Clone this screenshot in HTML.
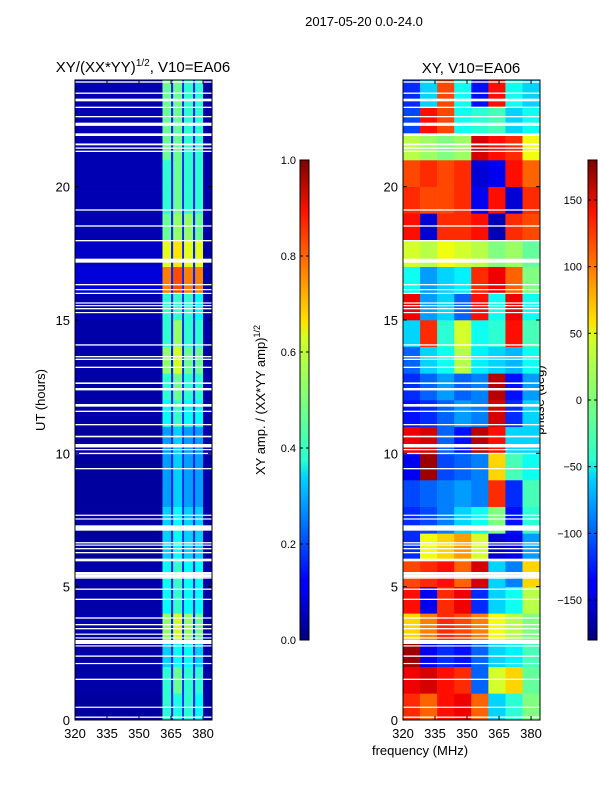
<!DOCTYPE html>
<html><head><meta charset="utf-8"><style>
body{margin:0;background:#fff;}
svg{display:block;font-family:"Liberation Sans",sans-serif;}
</style></head><body>
<svg id="c" width="600" height="800" xmlns="http://www.w3.org/2000/svg">
<defs>
<linearGradient id="jet" x1="0" y1="1" x2="0" y2="0">
<stop offset="0" stop-color="#00007f"/><stop offset="0.11" stop-color="#0000ff"/><stop offset="0.125" stop-color="#0000ff"/>
<stop offset="0.34" stop-color="#00d4ff"/><stop offset="0.375" stop-color="#29ffce"/><stop offset="0.5" stop-color="#7dff7a"/>
<stop offset="0.625" stop-color="#ceff29"/><stop offset="0.66" stop-color="#ffe500"/><stop offset="0.89" stop-color="#ff1300"/><stop offset="1" stop-color="#7f0000"/>
</linearGradient>
</defs>
<text x="364" y="26" font-size="13" text-anchor="middle">2017-05-20 0.0-24.0</text>
<text x="143" y="72" font-size="15" text-anchor="middle">XY/(XX*YY)<tspan font-size="10" dy="-6">1/2</tspan><tspan dy="6">, V10=EA06</tspan></text>
<text x="471" y="73" font-size="15" text-anchor="middle">XY, V10=EA06</text>
<text transform="translate(45,400) rotate(-90)" font-size="13" text-anchor="middle">UT (hours)</text>
<text transform="translate(265,400) rotate(-90)" font-size="13" text-anchor="middle">XY amp. / (XX*YY amp)<tspan font-size="9" dy="-5">1/2</tspan></text>
<text transform="translate(544,400) rotate(-90)" font-size="13" text-anchor="middle">phase (deg)</text>
<text x="420" y="755" font-size="13" text-anchor="middle">frequency (MHz)</text>
<g id="g1"></g><g id="g2"></g><g id="ax"></g>
</svg>
<script>
// ---- data ----
const freqTicks=[320,335,350,365,380];
const hourTicks=[0,5,10,15,20];
const ampColEdges=[320,361,365,366,370.2,371.1,375.3,376.3,380,384.2];
const ampBg=[0.03,0.04,0.04,0.05,0.04,0.04,0.03,0.03,0.03,0.03,0.03,0.04,0.04,0.04,0.04,0.05,0.09,0.07,0.05,0.05,0.05,0.05,0.05,0.05];
const band1=[.42,.42,.33,.52,.38,.38,.33,.33,.28,.28,.28,.38,.42,.52,.42,.42,.75,.6,.48,.42,.42,.48,.48,.48];
const band2=[.4,.48,.38,.58,.43,.43,.38,.38,.33,.33,.33,.43,.48,.58,.52,.43,.8,.65,.52,.48,.48,.48,.48,.48];
const band3=[.42,.42,.38,.52,.38,.38,.33,.33,.28,.28,.28,.38,.42,.48,.42,.42,.75,.6,.52,.42,.42,.42,.42,.42];
const band4=[.38,.42,.33,.48,.38,.38,.33,.33,.28,.28,.28,.38,.42,.48,.42,.38,.75,.6,.48,.42,.42,.42,.42,.42];
const phaseColEdges=[320,328,336,344,352,360,368,376,384.2];
const phase=[
[120,100,130,140,100,-60,-30,0],
[140,150,130,120,-100,30,60,-10],
[170,-140,-120,-130,-100,-60,-50,-20],
[60,90,120,110,90,40,20,0],
[130,-140,120,140,-120,-60,-40,20],
[110,120,130,100,150,-60,-90,60],
[-120,40,60,80,30,-150,-140,-80],
[-120,-110,-90,-60,-40,0,-130,-30],
[-110,-100,-90,-80,-90,120,-120,-20],
[-140,170,-110,-100,-90,60,-20,-40],
[140,150,-100,-130,160,130,-60,-60],
[-130,-120,-100,-80,-90,150,-120,-60],
[-120,-100,-80,-100,-90,160,-130,-80],
[-100,-60,-40,20,-50,-60,-70,-40],
[-60,120,-30,30,-40,-30,130,-20],
[140,-80,-60,-100,130,-40,140,-40],
[-40,-80,-60,-50,120,140,100,0],
[30,20,40,30,20,0,10,-10],
[130,-150,120,120,130,-160,120,110],
[120,110,110,120,-140,130,-150,120],
[110,120,110,120,-150,-140,130,100],
[20,10,0,10,150,130,120,40],
[-110,130,110,-40,-30,-20,-60,-40],
[-120,-60,110,-40,-130,130,-40,-60]];
// flagged (white) time intervals in hours [start,end]
const flags=[[0.08,0.13],[0.47,0.5],[1.5,1.55],[2.1,2.14],[2.37,2.42],[2.76,2.8],[2.85,3.0],[3.08,3.1],[3.2,3.24],[3.4,3.45],[3.55,3.6],[3.8,3.85],[4.5,4.55],[4.88,4.93],[5.3,5.35],[5.45,5.55],[5.35,5.4],[5.4,5.45],[5.95,6.05],[6.25,6.3],[6.4,6.45],[6.54,6.58],[6.62,6.67],[7.1,7.3],[7.52,7.56],[7.66,7.7],[9.4,9.45],[9.97,10.02],[10.12,10.16],[10.22,10.35],[10.6,10.66],[11.05,11.1],[11.55,11.6],[11.75,11.85],[12.36,12.42],[12.38,12.45],[12.6,12.66],[13.2,13.25],[13.5,13.55],[13.6,13.65],[14.04,14.09],[15.26,15.3],[15.4,15.45],[15.52,15.56],[15.62,15.66],[15.98,16.02],[16.12,16.16],[16.3,16.35],[17.15,17.3],[17.95,18.0],[18.5,18.55],[19.1,19.15],[21.3,21.35],[21.42,21.47],[21.55,21.62],[21.9,22.0],[22.28,22.4],[22.6,22.65],[22.95,23.0],[23.2,23.3],[23.48,23.53],[23.9,23.95]];
// ---- drawing ----
const NS='http://www.w3.org/2000/svg';
function jet(v){v=Math.max(0,Math.min(1,v));
 const f=x=>Math.round(255*Math.max(0,Math.min(1,x)));
 return 'rgb('+f(1.5-Math.abs(4*v-3))+','+f(1.5-Math.abs(4*v-2))+','+f(1.5-Math.abs(4*v-1))+')';}
const P1={x0:75,x1:212,y0:80,y1:720},P2={x0:403,x1:540,y0:80,y1:720};
function fx(P,f){return P.x0+(f-320)*(P.x1-P.x0)/(384.2-320);}
function hy(P,h){return P.y1-h*(P.y1-P.y0)/24;}
function rect(g,x,y,w,h,fill,name){const r=document.createElementNS(NS,'rect');
 r.setAttribute('x',x);r.setAttribute('y',y);r.setAttribute('width',w);r.setAttribute('height',h);r.setAttribute('fill',fill);
 
 
 g.appendChild(r);return r;}
const g1=document.getElementById('g1'),g2=document.getElementById('g2'),ax=document.getElementById('ax');
for(let h=0;h<24;h++){
 const row=[ampBg[h],band1[h],0.16,band2[h],0.16,band3[h],0.16,band4[h],0.04];
 for(let c=0;c<row.length;c++){
  const x=fx(P1,ampColEdges[c]),x2=fx(P1,ampColEdges[c+1]);
  rect(g1,x,hy(P1,h+1),x2-x+0.3,hy(P1,h)-hy(P1,h+1)+0.3,jet(row[c]),'amp-cell');
 }
 for(let c=0;c<8;c++){
  const x=fx(P2,phaseColEdges[c]),x2=fx(P2,phaseColEdges[c+1]);
  rect(g2,x,hy(P2,h+1),x2-x+0.3,hy(P2,h)-hy(P2,h+1)+0.3,jet((phase[h][c]+180)/360),'phase-cell');
 }
}
for(const [a,b] of flags){
 for(const [P,g] of [[P1,g1],[P2,g2]]){
  rect(g,P.x0,hy(P,b),P.x1-P.x0,Math.max(1.2,hy(P,a)-hy(P,b)),'#fff','flagged-row');
 }
}
function line(g,x1,y1,x2,y2,name){const l=document.createElementNS(NS,'line');
 l.setAttribute('x1',x1);l.setAttribute('y1',y1);l.setAttribute('x2',x2);l.setAttribute('y2',y2);l.setAttribute('stroke','#000');
 
 
 g.appendChild(l);}
function text(g,x,y,s,anchor,name){const t=document.createElementNS(NS,'text');
 t.setAttribute('x',x);t.setAttribute('y',y);t.setAttribute('font-size','13');t.setAttribute('text-anchor',anchor);t.textContent=s;
 
 
 g.appendChild(t);}
for(const P of [P1,P2]){
 const fr=rect(ax,P.x0,P.y0,P.x1-P.x0,P.y1-P.y0,'none','axes-frame');fr.setAttribute('stroke','#000');
 for(const f of freqTicks){const x=fx(P,f);line(ax,x,P.y1,x,P.y1-4,'x-tick');line(ax,x,P.y0,x,P.y0+4,'x-tick');text(ax,x,P.y1+18,String(f),'middle','x-tick-label');}
 for(const h of hourTicks){const y=hy(P,h);line(ax,P.x0,y,P.x0+4,y,'y-tick');line(ax,P.x1,y,P.x1-4,y,'y-tick');text(ax,P.x0-5,y+5,String(h),'end','y-tick-label');}
}
// colorbars
const cb1={x:300,y0:160,y1:640},cb2={x:588,y0:160,y1:640};
for(const cb of [cb1,cb2]){const r=rect(ax,cb.x,cb.y0,9,cb.y1-cb.y0,'url(#jet)','colorbar');r.setAttribute('stroke','#000');}
const ampCbTicks=[0,0.2,0.4,0.6,0.8,1.0];
const phaseCbTicks=[-150,-100,-50,0,50,100,150];
for(const v of ampCbTicks){const y=cb1.y1-v*(cb1.y1-cb1.y0);line(ax,cb1.x,y,cb1.x+3,y,'amp-cb-tick');line(ax,cb1.x+9,y,cb1.x+6,y,'amp-cb-tick');
 text(ax,cb1.x-4,y+4,v.toFixed(1),'end','amp-cb-label');ax.lastChild.setAttribute('font-size','11');}
for(const v of phaseCbTicks){const y=cb2.y1-(v+180)*(cb2.y1-cb2.y0)/360;line(ax,cb2.x,y,cb2.x+3,y,'phase-cb-tick');line(ax,cb2.x+9,y,cb2.x+6,y,'phase-cb-tick');
 text(ax,cb2.x-6,y+4,v<0?'\u2212'+(-v):String(v),'end','phase-cb-label');ax.lastChild.setAttribute('font-size','11');}
</script>
</body></html>
